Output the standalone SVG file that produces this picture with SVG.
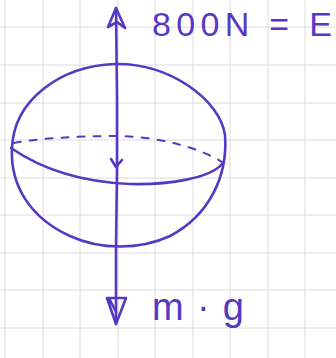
<svg xmlns="http://www.w3.org/2000/svg" width="336" height="358" viewBox="0 0 336 358">
<style>
.grid line{stroke:#dcdcdc;stroke-width:1}
.ink{fill:none;stroke:#5638c2;stroke-width:2.6;stroke-linecap:round;stroke-linejoin:round}
.dash{fill:none;stroke:#5638c2;stroke-width:2;stroke-dasharray:7 9;stroke-linecap:round}
.lbl{font-family:"Liberation Sans",Arial,sans-serif;fill:#5638c2;font-weight:normal}
</style>
<rect width="336" height="358" fill="#ffffff"/>
<g class="grid">
<line x1="5" y1="0" x2="5" y2="358"/><line x1="43" y1="0" x2="43" y2="358"/><line x1="80" y1="0" x2="80" y2="358"/><line x1="118" y1="0" x2="118" y2="358"/><line x1="155" y1="0" x2="155" y2="358"/><line x1="193" y1="0" x2="193" y2="358"/><line x1="230" y1="0" x2="230" y2="358"/><line x1="268" y1="0" x2="268" y2="358"/><line x1="305" y1="0" x2="305" y2="358"/>
<line x1="0" y1="27" x2="336" y2="27"/><line x1="0" y1="65" x2="336" y2="65"/><line x1="0" y1="103" x2="336" y2="103"/><line x1="0" y1="140" x2="336" y2="140"/><line x1="0" y1="178" x2="336" y2="178"/><line x1="0" y1="215" x2="336" y2="215"/><line x1="0" y1="253" x2="336" y2="253"/><line x1="0" y1="290" x2="336" y2="290"/><line x1="0" y1="328" x2="336" y2="328"/>
</g>
<g id="sphere">
<path class="ink" d="M12,148 C14,100 60,66 115,64 C170,63 220,100 225,135 C228,175 210,215 170,236 C140,250 100,250 70,236 C30,218 10,185 12,148 Z"/>
<path class="ink" d="M11,148 C40,168 80,182 130,184 C170,185 210,178 222,164"/>
<path class="dash" d="M14,143 C40,138 80,136 120,136 C160,137 200,148 222,162"/>
</g>
<g id="connectors">
<path class="ink" d="M116,8 L117,98 L117,170 L116,250 L116,324"/>
<path class="ink" d="M116,8 L108,27 L117,22 L125,28 Z"/>
<path class="ink" d="M111,159 L116,167 L122,160"/>
<path class="ink" d="M107,298 L116,324 L126,298 Z M110,300 L116,312"/>
</g>
<g id="label-top"><text class="lbl" x="152" y="36" font-size="34" textLength="180" lengthAdjust="spacing">800N = E</text></g>
<g id="label-bottom"><text class="lbl" x="152" y="320" font-size="38" textLength="92" lengthAdjust="spacing">m·g</text></g>
</svg>
